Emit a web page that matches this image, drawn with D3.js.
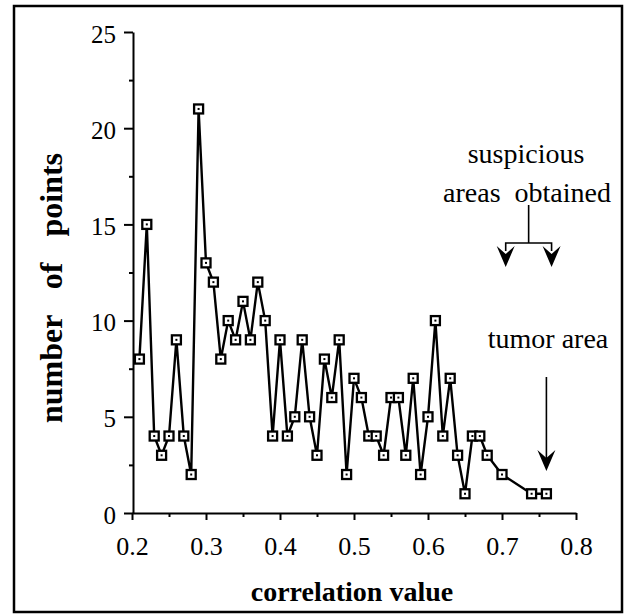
<!DOCTYPE html>
<html>
<head>
<meta charset="utf-8">
<script src="https://cdn.jsdelivr.net/npm/d3@7"></script>
<style>
  html, body { margin: 0; padding: 0; background: #fff; }
  svg { display: block; }
  text { font-family: "Liberation Serif", "Times New Roman", serif; fill: #000; }
</style>
</head>
<body>
<svg id="chart" width="629" height="615"></svg>
<script>
// ---- data ----
const correlation = [0.21,0.22,0.23,0.24,0.25,0.26,0.27,0.28,0.29,0.30,
  0.31,0.32,0.33,0.34,0.35,0.36,0.37,0.38,0.39,0.40,
  0.41,0.42,0.43,0.44,0.45,0.46,0.47,0.48,0.49,0.50,
  0.51,0.52,0.53,0.54,0.55,0.56,0.57,0.58,0.59,0.60,
  0.61,0.62,0.63,0.64,0.65,0.66,0.67,0.68,0.70,0.74,0.76];
const points = [8,15,4,3,4,9,4,2,21,13,
  12,8,10,9,11,9,12,10,4,9,
  4,5,9,5,3,8,6,9,2,7,
  6,4,4,3,6,6,3,7,2,5,
  10,4,7,3,1,4,4,3,2,1,1];
const xTicks = [0.2,0.3,0.4,0.5,0.6,0.7,0.8];
const xMinorTicks = [0.25,0.35,0.45,0.55,0.65,0.75];
const yTicks = [0,5,10,15,20,25];
const yMinorTicks = [2.5,7.5,12.5,17.5,22.5];
const xTitle = "correlation value";
const yTitle = "number of points";
const suspiciousLabel = ["suspicious", "areas  obtained"];
const suspiciousAt = [0.705, 0.767];
const tumorLabel = "tumor area";
const tumorAt = 0.76;

// ---- layout ----
const SERIF = '"Liberation Serif", "Times New Roman", serif';
const svg = d3.select("#chart");
const pL = 133, pR = 576, pT = 32, pB = 513;
const x = d3.scaleLinear().domain([0.2, 0.8]).range([pL - 1, pR]);
const y = d3.scaleLinear().domain([0, 25]).range([pB, pT]);

// frame
svg.append("rect").attr("x", 14).attr("y", 6).attr("width", 608).attr("height", 606)
  .attr("fill", "none").attr("stroke", "#000").attr("stroke-width", 2.5);

// x axis
const gx = svg.append("g").attr("transform", `translate(0,${pB})`);
gx.call(d3.axisBottom(x).tickValues(xTicks).tickSize(7).tickSizeOuter(0).tickFormat(d3.format(".1f")));
gx.append("g").call(d3.axisBottom(x).tickValues(xMinorTicks).tickSize(4).tickFormat(""))
  .select(".domain").remove();
gx.attr("font-family", SERIF);
gx.selectAll("path, line").attr("stroke", "#000").attr("stroke-width", 2);
gx.selectAll(".tick text").attr("font-size", 26).attr("dy", 0).attr("y", 42)
  .attr("font-family", SERIF).style("font-family", SERIF);

// y axis
const gy = svg.append("g").attr("transform", `translate(${pL},0)`);
gy.call(d3.axisLeft(y).tickValues(yTicks).tickSize(9).tickSizeOuter(0));
gy.append("g").call(d3.axisLeft(y).tickValues(yMinorTicks).tickSize(4).tickFormat(""))
  .select(".domain").remove();
gy.attr("font-family", SERIF);
gy.selectAll("path, line").attr("stroke", "#000").attr("stroke-width", 2);
gy.selectAll(".tick text").attr("font-size", 25).attr("x", -17).attr("dy", "0.4em")
  .attr("font-family", SERIF).style("font-family", SERIF);

// titles
svg.append("text").attr("x", 352).attr("y", 601).attr("text-anchor", "middle")
  .attr("font-size", 28).attr("font-weight", "bold").text(xTitle);
svg.append("text").attr("transform", "translate(62,288) rotate(-90)").attr("text-anchor", "middle")
  .attr("font-size", 32).attr("font-weight", "bold").attr("word-spacing", 18).text(yTitle);

// series line
const line = d3.line().x((d, i) => x(correlation[i])).y(d => y(d));
svg.append("path").datum(points).attr("d", line)
  .attr("fill", "none").attr("stroke", "#000").attr("stroke-width", 2.4);

// markers
const mk = svg.append("g").selectAll("g").data(points).join("g")
  .attr("transform", (d, i) => `translate(${x(correlation[i])},${y(d)})`);
mk.append("rect").attr("x", -4.5).attr("y", -4.5).attr("width", 9).attr("height", 9)
  .attr("fill", "#fff").attr("stroke", "#000").attr("stroke-width", 2.3);
mk.append("rect").attr("x", -1).attr("y", -1).attr("width", 2).attr("height", 2).attr("fill", "#000");

// arrowhead helper (notched, pointing down)
function head(cx, tipY) {
  return `M${cx},${tipY} L${cx - 9},${tipY - 21} L${cx},${tipY - 13} L${cx + 9},${tipY - 21} Z`;
}

// suspicious areas annotation
const sa = svg.append("g");
sa.append("text").attr("x", 526).attr("y", 163).attr("text-anchor", "middle")
  .attr("font-size", 28).text(suspiciousLabel[0]);
sa.append("text").attr("x", 527).attr("y", 202).attr("text-anchor", "middle")
  .attr("font-size", 28).attr("xml:space", "preserve").text(suspiciousLabel[1]);
const sx0 = x(suspiciousAt[0]), sx1 = x(suspiciousAt[1]), smid = (sx0 + sx1) / 2;
sa.append("path").attr("d", `M${smid},205 V243 M${sx0},251 V243 H${sx1} V251`)
  .attr("fill", "none").attr("stroke", "#000").attr("stroke-width", 1.6);
sa.append("path").attr("d", head(sx0, 267)).attr("fill", "#000");
sa.append("path").attr("d", head(sx1, 267)).attr("fill", "#000");

// tumor area annotation
const ta = svg.append("g");
ta.append("text").attr("x", 548).attr("y", 348).attr("text-anchor", "middle")
  .attr("font-size", 28).text(tumorLabel);
const tx = x(tumorAt);
ta.append("path").attr("d", `M${tx},377 V460`).attr("stroke", "#000").attr("stroke-width", 1.6);
ta.append("path").attr("d", head(tx, 471)).attr("fill", "#000");
</script>
</body>
</html>
